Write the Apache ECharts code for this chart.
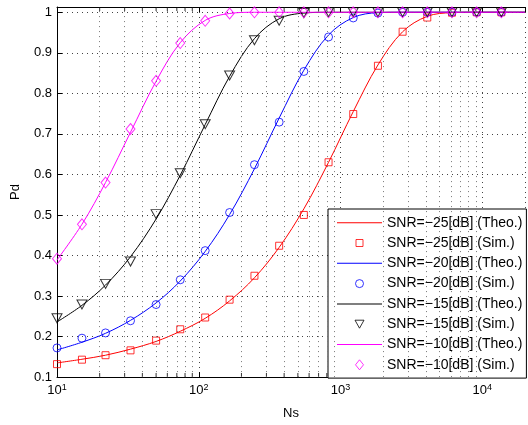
<!DOCTYPE html>
<html><head><meta charset="utf-8">
<script src="https://cdn.jsdelivr.net/npm/echarts@6/dist/echarts.min.js"></script>
<style>html,body{margin:0;padding:0;background:#fff}#c{width:528px;height:425px}</style>
</head><body><div id="c"></div>
<script>
// Sample sizes (x) of the simulated points
const ns = [10, 15, 22, 33, 50, 74, 111, 165, 247, 369, 551, 823, 1229, 1835, 2740, 4091, 6109, 9122, 13622];
// x of the theoretical curves (same points, extended to the right edge)
const nsTheo = [10, 15, 22, 33, 50, 74, 111, 165, 247, 369, 551, 823, 1229, 1835, 2740, 4091, 6109, 9122, 13622, 20000];

const theo25 = [0.135, 0.144, 0.154, 0.169, 0.188, 0.213, 0.245, 0.288, 0.345, 0.420, 0.515, 0.630, 0.755, 0.870, 0.952, 0.990, 0.999, 1.000, 1.000, 1.000];
const sim25  = [0.132, 0.143, 0.154, 0.166, 0.190, 0.218, 0.247, 0.291, 0.350, 0.424, 0.500, 0.630, 0.749, 0.868, 0.952, 0.987, 0.999, 1.000, 1.000];
const theo20 = [0.167, 0.186, 0.208, 0.240, 0.283, 0.337, 0.410, 0.501, 0.614, 0.739, 0.857, 0.944, 0.987, 0.999, 1.000, 1.000, 1.000, 1.000, 1.000, 1.000];
const sim20  = [0.172, 0.196, 0.209, 0.239, 0.279, 0.340, 0.412, 0.506, 0.624, 0.729, 0.854, 0.939, 0.986, 0.998, 1.000, 1.000, 1.000, 1.000, 1.000];
const theo15 = [0.236, 0.277, 0.327, 0.397, 0.490, 0.598, 0.723, 0.842, 0.935, 0.984, 0.998, 1.000, 1.000, 1.000, 1.000, 1.000, 1.000, 1.000, 1.000, 1.000];
const sim15  = [0.245, 0.279, 0.330, 0.385, 0.502, 0.603, 0.724, 0.844, 0.931, 0.979, 0.998, 1.000, 1.000, 1.000, 1.000, 1.000, 1.000, 1.000, 1.000];
const theo10 = [0.389, 0.477, 0.580, 0.704, 0.830, 0.925, 0.980, 0.997, 1.000, 1.000, 1.000, 1.000, 1.000, 1.000, 1.000, 1.000, 1.000, 1.000, 1.000, 1.000];
const sim10  = [0.392, 0.477, 0.580, 0.712, 0.831, 0.924, 0.979, 0.997, 1.000, 1.000, 1.000, 1.000, 1.000, 1.000, 1.000, 1.000, 1.000, 1.000, 1.000];

const names = [
  'SNR=\u221225[dB] (Theo.)', 'SNR=\u221225[dB] (Sim.)',
  'SNR=\u221220[dB] (Theo.)', 'SNR=\u221220[dB] (Sim.)',
  'SNR=\u221215[dB] (Theo.)', 'SNR=\u221215[dB] (Sim.)',
  'SNR=\u221210[dB] (Theo.)', 'SNR=\u221210[dB] (Sim.)'
];
// minor log ticks / grid lines
const minorX = [20, 30, 40, 50, 60, 70, 80, 90, 200, 300, 400, 500, 600, 700, 800, 900,
                2000, 3000, 4000, 5000, 6000, 7000, 8000, 9000];
const xMin = 10, xMax = 20000, yMin = 0.1, yMax = 1.013;

const FONT = '"Liberation Sans", Arial, Helvetica, sans-serif';
const chart = echarts.init(document.getElementById('c'), null, {renderer: 'canvas'});

function theoSeries(name, color, ys) {
  return {
    name, type: 'line', data: nsTheo.map((x, i) => [x, ys[i]]),
    symbol: 'none', smooth: 0.35, lineStyle: {color, width: 1}, itemStyle: {color},
    z: 3, animation: false
  };
}
function simSeries(name, color, ys, symbol, size, rot) {
  return {
    name, type: 'scatter', data: ns.map((x, i) => [x, ys[i]]),
    symbol, symbolSize: size, symbolRotate: rot || 0,
    itemStyle: {color: 'rgba(0,0,0,0)', borderColor: color, borderWidth: 1},
    z: 4, animation: false
  };
}

const tickData = [];
minorX.forEach(v => {
  tickData.push({value: [v, yMin], symbolOffset: [0, -2]});
  tickData.push({value: [v, yMax], symbolOffset: [0, 2]});
});

// legend icon shapes (10x10 frame, aspect kept inside the item box)
const LINE_ICON = 'path://M0,0H45V1H0Z';
const SIM_ICONS = [
  'path://M1.5,1.5H8.5V8.5H1.5Z M0,0 M10,10',
  'path://M1,5A4,4 0 1,0 9,5A4,4 0 1,0 1,5Z M0,0 M10,10',
  'path://M0.5,1H9.5L5,9Z M0,0 M10,10',
  'path://M5,0L9,5L5,10L1,5Z'
];
const legendData = names.map((n, i) => (i % 2 === 0)
  ? {name: n, icon: LINE_ICON, itemStyle: {borderWidth: 0}}
  : {name: n, icon: SIM_ICONS[(i - 1) / 2], symbolRotate: 0});

const option = {
  animation: false,
  grid: {left: 57, right: -5, top: 7, bottom: 41, containLabel: false},
  xAxis: [{
    type: 'log', logBase: 10, min: xMin, max: xMax, position: 'bottom',
    name: 'Ns', nameLocation: 'middle', nameGap: 27,
    nameTextStyle: {fontFamily: FONT, fontSize: 13, color: '#000'},
    axisLine: {show: true, lineStyle: {color: '#000', width: 1}},
    axisTick: {show: true, inside: true, length: 5, lineStyle: {color: '#000'}},
    axisLabel: {
      margin: 6, color: '#000',
      formatter: v => {
        const e = Math.log10(v);
        if (Math.abs(e - Math.round(e)) > 1e-6) return '';
        return '{b|10}{s|' + Math.round(e) + '}';
      },
      rich: {
        b: {fontFamily: FONT, fontSize: 13, color: '#000', lineHeight: 14, verticalAlign: 'bottom'},
        s: {fontFamily: FONT, fontSize: 9, color: '#000', lineHeight: 10, padding: [0, 0, 10, 0], verticalAlign: 'top'}
      }
    },
    splitLine: {show: true, lineStyle: {color: '#444', type: [1, 4], width: 1}}
  }, {
    type: 'log', logBase: 10, min: xMin, max: xMax, position: 'top',
    axisLine: {show: true, lineStyle: {color: '#000', width: 1}},
    axisTick: {show: true, inside: true, length: 5, lineStyle: {color: '#000'}},
    axisLabel: {show: false}, splitLine: {show: false}
  }],
  yAxis: {
    type: 'value', min: yMin, max: yMax, interval: 0.1,
    name: 'Pd', nameLocation: 'middle', nameGap: 35,
    nameTextStyle: {fontFamily: FONT, fontSize: 13, color: '#000'},
    axisLine: {show: true, lineStyle: {color: '#000', width: 1}},
    axisTick: {show: true, inside: true, length: 5, lineStyle: {color: '#000'}},
    axisLabel: {
      margin: 5, color: '#000', fontFamily: FONT, fontSize: 13,
      formatter: v => {
        const t = v * 10;
        if (Math.abs(t - Math.round(t)) > 1e-6 || v > 1.0001) return '';
        return String(+v.toFixed(1));
      }
    },
    splitLine: {show: true, lineStyle: {color: '#444', type: [1, 4], width: 1}}
  },
  legend: {
    data: legendData, orient: 'vertical', left: 328, top: 209,
    itemWidth: 45, itemHeight: 10, itemGap: 6.3,
    padding: [6.7, 4, 6.3, 9],
    symbolKeepAspect: true, symbolRotate: 0,
    backgroundColor: '#fff', borderColor: '#000', borderWidth: 1, borderRadius: 0,
    textStyle: {fontFamily: FONT, fontSize: 14, color: '#000', lineHeight: 14},
    itemStyle: {borderWidth: 1},
    selectedMode: false
  },
  series: [
    {
      name: 'minorGrid', type: 'line', data: [], z: 1, silent: true,
      markLine: {
        silent: true, symbol: ['none', 'none'], animation: false,
        label: {show: false},
        lineStyle: {color: '#777', type: [1, 4], width: 1},
        data: minorX.map(v => ({xAxis: v}))
      }
    },
    {
      name: 'minorTicks', type: 'scatter', data: tickData, symbol: 'rect',
      symbolSize: [1, 4], itemStyle: {color: '#000'}, silent: true, z: 2, animation: false
    },
    theoSeries(names[0], '#ff0000', theo25),
    simSeries(names[1], '#ff0000', sim25, 'rect', 7),
    theoSeries(names[2], '#0000ff', theo20),
    simSeries(names[3], '#0000ff', sim20, 'circle', 8),
    theoSeries(names[4], '#000000', theo15),
    simSeries(names[5], '#000000', sim15, 'triangle', [10, 9], 180),
    theoSeries(names[6], '#ff00ff', theo10),
    simSeries(names[7], '#ff00ff', sim10, 'diamond', [9, 11])
  ]
};
chart.setOption(option);
</script></body></html>
